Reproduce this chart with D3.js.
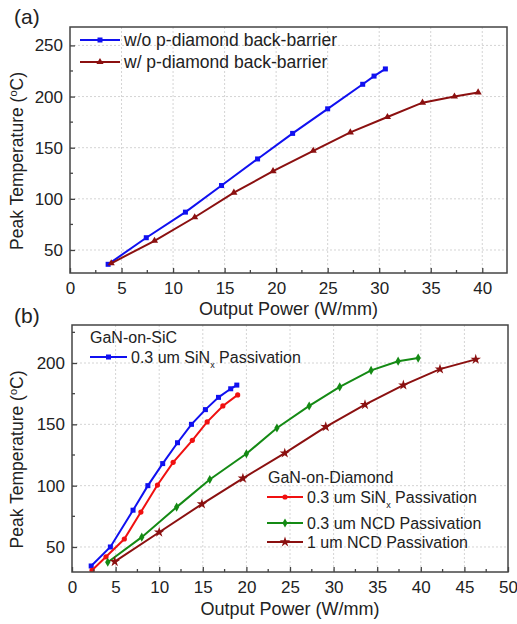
<!DOCTYPE html>
<html>
<head>
<meta charset="utf-8">
<script src="https://cdn.jsdelivr.net/npm/d3@7/dist/d3.min.js"></script>
<style>
  body { margin: 0; background: #fff; }
  text { font-family: Arial, "Liberation Sans", sans-serif; fill: #222; }
</style>
</head>
<body>
<script>
// panel (a)
var aWithout = [[3.7, 36], [7.4, 62], [11.2, 87], [14.7, 113], [18.2, 139], [21.6, 164], [25.0, 188], [28.4, 212], [29.5, 220], [30.6, 227]];
var aWith = [[4.0, 37], [8.2, 59], [12.1, 82], [15.9, 106], [19.7, 127], [23.6, 147], [27.2, 165], [30.8, 180], [34.2, 194], [37.3, 200], [39.6, 204]];
var aLabels = ["w/o p-diamond back-barrier", "w/ p-diamond back-barrier"];
var aXTicks = [0, 5, 10, 15, 20, 25, 30, 35, 40];
var aYTicks = [50, 100, 150, 200, 250];

// panel (b)
var bSiC = [[2.2, 34.5], [4.4, 50], [7.0, 80], [8.7, 100], [10.4, 118], [12.1, 135], [13.7, 150], [15.3, 162], [16.8, 172], [18.2, 179], [18.9, 182]];
var bSiNx = [[2.3, 31], [3.9, 42], [6.0, 56.5], [7.9, 78.5], [9.8, 100.5], [11.6, 119], [13.8, 137], [15.5, 152], [17.3, 165], [19.0, 174]];
var bNCD03 = [[4.1, 37.5], [8.0, 58], [12.0, 82.5], [15.8, 105], [20.0, 126], [23.5, 147], [27.2, 165], [30.7, 180.5], [34.3, 194], [37.4, 201.5], [39.7, 204]];
var bNCD1 = [[4.9, 38], [10.0, 62], [14.9, 85], [19.6, 106], [24.4, 126.5], [29.1, 148], [33.6, 166], [38.0, 182], [42.2, 195], [46.3, 203]];
var bXTicks = [0, 5, 10, 15, 20, 25, 30, 35, 40, 45, 50];
var bYTicks = [50, 100, 150, 200];

var svg = d3.select("body").append("svg").attr("width", 517).attr("height", 624);

function marker(g, shape, color, x, y) {
  if (shape === "square") {
    g.append("rect").attr("x", x - 2.5).attr("y", y - 2.5).attr("width", 5).attr("height", 5).attr("fill", color);
  } else if (shape === "triangle") {
    g.append("path").attr("d", d3.symbol(d3.symbolTriangle, 22)()).attr("transform", "translate(" + x + "," + y + ")").attr("fill", color);
  } else if (shape === "circle") {
    g.append("circle").attr("cx", x).attr("cy", y).attr("r", 2.6).attr("fill", color);
  } else if (shape === "diamond") {
    g.append("path").attr("d", d3.symbol(d3.symbolDiamond, 24)()).attr("transform", "translate(" + x + "," + y + ")").attr("fill", color);
  } else if (shape === "star") {
    g.append("path").attr("d", d3.symbol(d3.symbolStar, 34)()).attr("transform", "translate(" + x + "," + y + ")").attr("fill", color);
  }
}

function panel(cfg) {
  var x = d3.scaleLinear().domain(cfg.xDomain).range([cfg.left, cfg.right]),
      y = d3.scaleLinear().domain(cfg.yDomain).range([cfg.bottom, cfg.top]),
      g = svg.append("g");

  var clipId = "clip" + cfg.name.replace(/\W/g, "");
  g.append("clipPath").attr("id", clipId).append("rect")
    .attr("x", cfg.left).attr("y", cfg.top)
    .attr("width", cfg.right - cfg.left).attr("height", cfg.bottom - cfg.top);

  // grid
  g.selectAll(".vg").data(cfg.xTicks.filter(function(d) { return d > cfg.xDomain[0] && x(d) < cfg.right - 1; }))
    .enter().append("line")
    .attr("x1", function(d) { return x(d); }).attr("x2", function(d) { return x(d); })
    .attr("y1", cfg.top).attr("y2", cfg.bottom)
    .attr("stroke", "#d4d4d4").attr("stroke-dasharray", "2,2");
  g.selectAll(".hg").data(cfg.yTicks)
    .enter().append("line")
    .attr("y1", function(d) { return y(d); }).attr("y2", function(d) { return y(d); })
    .attr("x1", cfg.left).attr("x2", cfg.right)
    .attr("stroke", "#d4d4d4").attr("stroke-dasharray", "2,2");

  // series
  var line = d3.line().x(function(d) { return x(d[0]); }).y(function(d) { return y(d[1]); });
  var plot = g.append("g").attr("clip-path", "url(#" + clipId + ")");
  cfg.series.forEach(function(s) {
    plot.append("path").datum(s.data).attr("d", line)
      .attr("fill", "none").attr("stroke", s.color).attr("stroke-width", 2);
    s.data.forEach(function(d) { marker(plot, s.shape, s.color, x(d[0]), y(d[1])); });
  });

  // axes (ticks inside)
  var xAxis = d3.axisBottom(x).tickValues(cfg.xTicks).tickSize(-5).tickPadding(9).tickFormat(d3.format("d"));
  var ax = g.append("g").attr("transform", "translate(0," + cfg.bottom + ")").call(xAxis);
  var yAxis = d3.axisLeft(y).tickValues(cfg.yTicks).tickSize(-5).tickPadding(7).tickFormat(d3.format("d"));
  var ay = g.append("g").attr("transform", "translate(" + cfg.left + ",0)").call(yAxis);
  [ax, ay].forEach(function(a) {
    a.select(".domain").remove();
    a.selectAll("line").attr("stroke", "#444").attr("stroke-width", 1.3);
    a.selectAll("text").attr("font-size", 17).attr("fill", "#222")
      .attr("font-family", "Arial, 'Liberation Sans', sans-serif");
  });
  var xMinor = cfg.xTicks.map(function(d) { return d + 2.5; }).filter(function(d) { return x(d) < cfg.right - 2; });
  g.selectAll(".xm").data(xMinor).enter().append("line")
    .attr("x1", function(d) { return x(d); }).attr("x2", function(d) { return x(d); })
    .attr("y1", cfg.bottom).attr("y2", cfg.bottom - 3).attr("stroke", "#444").attr("stroke-width", 1.3);
  var yMinor = cfg.yTicks.map(function(d) { return d + 25; }).filter(function(d) { return y(d) > cfg.top + 2; });
  g.selectAll(".ym").data(yMinor).enter().append("line")
    .attr("y1", function(d) { return y(d); }).attr("y2", function(d) { return y(d); })
    .attr("x1", cfg.left).attr("x2", cfg.left + 3).attr("stroke", "#444").attr("stroke-width", 1.3);

  // frame
  g.append("rect").attr("x", cfg.left).attr("y", cfg.top)
    .attr("width", cfg.right - cfg.left).attr("height", cfg.bottom - cfg.top)
    .attr("fill", "none").attr("stroke", "#444").attr("stroke-width", 1.5);

  // titles
  g.append("text").attr("x", (cfg.left + cfg.right) / 2).attr("y", cfg.xTitleY)
    .attr("text-anchor", "middle").attr("font-size", 18).text("Output Power (W/mm)");
  var yt = g.append("text").attr("transform", "translate(23," + ((cfg.top + cfg.bottom) / 2 + 11) + ") rotate(-90)")
    .attr("text-anchor", "middle").attr("font-size", 17.5);
  yt.append("tspan").text("Peak Temperature (");
  yt.append("tspan").attr("dy", -6).attr("font-size", 11).text("o");
  yt.append("tspan").attr("dy", 6).text("C)");
  g.append("text").attr("x", 14).attr("y", cfg.labelY).attr("font-size", 21).text(cfg.name);

  // legend
  cfg.legend.forEach(function(l) {
    if (l.color) {
      g.append("line").attr("x1", l.x).attr("x2", l.x + l.len).attr("y1", l.y).attr("y2", l.y)
        .attr("stroke", l.color).attr("stroke-width", 2);
      marker(g, l.shape, l.color, l.x + l.len / 2, l.y);
    }
    var t = g.append("text").attr("x", l.color ? l.x + l.len + 4 : l.x).attr("y", l.y + 6).attr("font-size", l.size);
    if (l.sub) {
      t.append("tspan").text(l.text[0]);
      t.append("tspan").attr("dy", 5).attr("font-size", 9).text(l.sub);
      t.append("tspan").attr("dy", -5).text(l.text[1]);
    } else {
      t.text(l.text);
    }
  });
}

panel({
  name: "(a)", labelY: 24,
  left: 70, right: 507, top: 27, bottom: 273,
  xDomain: [0, 42.4], yDomain: [27.5, 268],
  xTicks: aXTicks, yTicks: aYTicks, xTitleY: 315,
  series: [
    { data: aWithout, color: "#1010f0", shape: "square" },
    { data: aWith, color: "#8b1010", shape: "triangle" }
  ],
  legend: [
    { x: 80, len: 40, y: 40, color: "#1010f0", shape: "square", text: aLabels[0], size: 17.5 },
    { x: 80, len: 40, y: 62, color: "#8b1010", shape: "triangle", text: aLabels[1], size: 17.5 }
  ]
});

panel({
  name: "(b)", labelY: 323,
  left: 72, right: 508, top: 325, bottom: 572,
  xDomain: [0, 50], yDomain: [29.6, 231],
  xTicks: bXTicks, yTicks: bYTicks, xTitleY: 615,
  series: [
    { data: bSiC, color: "#1010f0", shape: "square" },
    { data: bSiNx, color: "#f01010", shape: "circle" },
    { data: bNCD03, color: "#148a14", shape: "diamond" },
    { data: bNCD1, color: "#8b1010", shape: "star" }
  ],
  legend: [
    { x: 90, y: 337, text: "GaN-on-SiC", size: 16 },
    { x: 90, len: 37, y: 357, color: "#1010f0", shape: "square", text: ["0.3 um SiN", " Passivation"], sub: "x", size: 16 },
    { x: 268, y: 477, text: "GaN-on-Diamond", size: 16 },
    { x: 267, len: 36, y: 497, color: "#f01010", shape: "circle", text: ["0.3 um SiN", " Passivation"], sub: "x", size: 16 },
    { x: 267, len: 36, y: 523, color: "#148a14", shape: "diamond", text: "0.3 um NCD Passivation", size: 16 },
    { x: 267, len: 36, y: 542, color: "#8b1010", shape: "star", text: "1 um NCD Passivation", size: 16 }
  ]
});
</script>
</body>
</html>
